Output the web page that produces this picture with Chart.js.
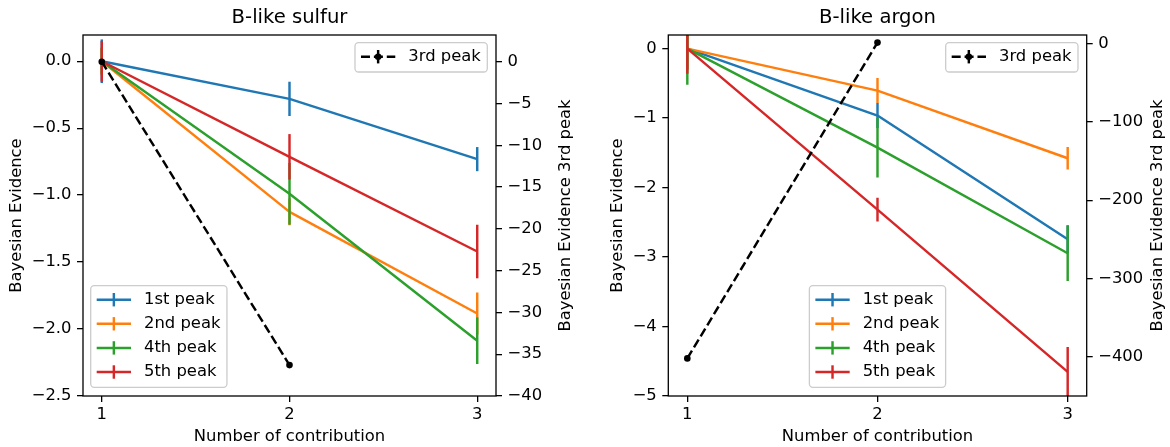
<!DOCTYPE html>
<html>
<head>
<meta charset="utf-8">
<script src="https://cdn.jsdelivr.net/npm/chart.js@4.4.0/dist/chart.umd.min.js"></script>
<style>
html, body { margin: 0; padding: 0; background: #fff; }
#wrap { position: relative; width: 1170px; height: 447px; }
canvas { position: absolute; top: 0; }
</style>
</head>
<body>
<div id="wrap">
  <canvas id="sulfur" width="585" height="447" style="left:0"></canvas>
  <canvas id="argon" width="585" height="447" style="left:585px"></canvas>
</div>
<script>
// x positions (number of contributions)
const xVals = [1, 2, 3];
const xTicks = [1, 2, 3];
const peakLabels = ['1st peak', '2nd peak', '4th peak', '5th peak'];
const peakColors = ['#1f77b4', '#ff7f0e', '#2ca02c', '#d62728'];

// B-like sulfur
const sulfurPeak1 = [0, -0.281, -0.731];
const sulfurPeak1Err = [0.163, 0.128, 0.09];
const sulfurPeak2 = [0, -1.125, -1.884];
const sulfurPeak2Err = [0.1, 0.1, 0.157];
const sulfurPeak4 = [0, -0.99, -2.087];
const sulfurPeak4Err = [0.1, 0.23, 0.174];
const sulfurPeak5 = [0, -0.714, -1.421];
const sulfurPeak5Err = [0.152, 0.17, 0.2];
const sulfurPeak3X = [1, 2];
const sulfurPeak3 = [0, -36.3];
const sulfurTicks = [0, -0.5, -1, -1.5, -2, -2.5];
const sulfurPeak3Ticks = [0, -5, -10, -15, -20, -25, -30, -35, -40];

// B-like argon
const argonPeak1 = [0, -0.964, -2.744];
const argonPeak1Err = [0.3, 0.18, 0.2];
const argonPeak2 = [0, -0.604, -1.578];
const argonPeak2Err = [0.3, 0.18, 0.163];
const argonPeak4 = [0, -1.425, -2.946];
const argonPeak4Err = [0.52, 0.43, 0.4];
const argonPeak5 = [0, -2.317, -4.653];
const argonPeak5Err = [0.36, 0.17, 0.36];
const argonPeak3X = [1, 2];
const argonPeak3 = [-402, 1.3];
const argonTicks = [0, -1, -2, -3, -4, -5];
const argonPeak3Ticks = [0, -100, -200, -300, -400];

const FONT = '"DejaVu Sans", sans-serif';
const SMALL = 16.4;
const tickFont = { family: FONT, size: SMALL };

const fmt = dec => v => (v < 0 ? '\u2212' : '') + Math.abs(v).toFixed(dec);

// vertical error bars, drawn right after each dataset's line
const errorBars = {
    id: 'errorBars',
    afterDatasetDraw(chart, args) {
        const ds = chart.data.datasets[args.index];
        if (!ds.errors) return;
        const { ctx, chartArea: a } = chart;
        const xs = chart.scales.x;
        const ys = chart.scales[ds.yAxisID];
        ctx.save();
        ctx.beginPath();
        ctx.rect(a.left, a.top, a.width, a.height);
        ctx.clip();
        ctx.strokeStyle = ds.borderColor;
        ctx.lineWidth = ds.borderWidth;
        ds.data.forEach((p, i) => {
            const px = xs.getPixelForValue(p.x);
            ctx.beginPath();
            ctx.moveTo(px, ys.getPixelForValue(p.y - ds.errors[i]));
            ctx.lineTo(px, ys.getPixelForValue(p.y + ds.errors[i]));
            ctx.stroke();
        });
        ctx.restore();
    }
};

function drawLegend(ctx, a, l) {
    ctx.save();
    ctx.font = `${SMALL}px ${FONT}`;
    const tw = Math.max(...l.items.map(it => ctx.measureText(it.label).width));
    const w = 53.3 + tw + 6.5;
    const h = 14 + (l.items.length - 1) * 24.1 + 15.3;
    let x, y;
    if (l.loc === 'upper right') { x = a.right - 8.7 - w; y = a.top + 7.7; }
    else if (l.loc === 'lower left') { x = a.left + 7.7; y = a.bottom - 8.7 - h; }
    else { x = (a.left + a.right - w) / 2; y = a.bottom - 8.7 - h; }
    ctx.beginPath();
    ctx.roundRect(x, y, w, h, 3.5);
    ctx.fillStyle = 'rgba(255,255,255,0.8)';
    ctx.fill();
    ctx.strokeStyle = '#cccccc';
    ctx.lineWidth = 1.3;
    ctx.stroke();
    l.items.forEach((it, i) => {
        const cy = y + 14 + i * 24.1;
        ctx.strokeStyle = it.color;
        ctx.lineWidth = 2.45;
        ctx.setLineDash(it.dash || []);
        ctx.beginPath();
        ctx.moveTo(x + 6, cy);
        ctx.lineTo(x + 40.3, cy);
        ctx.stroke();
        ctx.setLineDash([]);
        const mx = x + 23.15;
        ctx.beginPath();
        ctx.moveTo(mx, cy - 6.7);
        ctx.lineTo(mx, cy + 6.7);
        ctx.stroke();
        if (it.dot) {
            ctx.fillStyle = it.color;
            ctx.beginPath();
            ctx.arc(mx, cy, 3.3, 0, 2 * Math.PI);
            ctx.fill();
        }
        ctx.fillStyle = '#000';
        ctx.textAlign = 'left';
        ctx.textBaseline = 'middle';
        ctx.fillText(it.label, x + 53.3, cy);
    });
    ctx.restore();
}

// frame, title, right axis label and the two legends
const decor = {
    id: 'decor',
    afterDatasetsDraw(chart) {
        const { ctx, chartArea: a } = chart;
        ctx.save();
        ctx.strokeStyle = '#000';
        ctx.lineWidth = 1.3;
        ctx.strokeRect(a.left, a.top, a.width, a.height);
        ctx.restore();
    },
    afterDraw(chart, args, o) {
        const { ctx, chartArea: a } = chart;
        ctx.save();
        ctx.fillStyle = '#000';
        ctx.textAlign = 'center';
        ctx.textBaseline = 'middle';
        ctx.font = `19.6px ${FONT}`;
        ctx.fillText(o.title, (a.left + a.right) / 2, o.titleY);
        ctx.font = `${SMALL}px ${FONT}`;
        ctx.translate(o.rightTitleX, (a.top + a.bottom) / 2);
        ctx.rotate(-Math.PI / 2);
        ctx.fillText(o.rightTitle, 0, 0);
        ctx.restore();
        const ds = chart.data.datasets;
        const peaks = ds.filter(d => d.yAxisID === 'y').map(d => ({ label: d.label, color: d.borderColor }));
        const third = ds.filter(d => d.yAxisID === 'y2').map(d => ({ label: d.label, color: d.borderColor, dash: [9, 3.9], dot: true }));
        drawLegend(ctx, a, { loc: 'upper right', items: third });
        drawLegend(ctx, a, { loc: o.peakLegendLoc, items: peaks });
    }
};

function tickGrid() {
    return { drawOnChartArea: false, drawTicks: true, tickLength: 6, color: '#000', lineWidth: 1.3 };
}

function makeChart(id, c) {
    const series = [c.p1, c.p2, c.p4, c.p5];
    const errs = [c.e1, c.e2, c.e4, c.e5];
    const datasets = series.map((vals, i) => ({
        label: peakLabels[i],
        data: xVals.map((x, j) => ({ x, y: vals[j] })),
        errors: errs[i],
        borderColor: peakColors[i],
        backgroundColor: peakColors[i],
        borderWidth: 2.45,
        borderJoinStyle: 'round',
        pointRadius: 0,
        tension: 0,
        yAxisID: 'y',
        order: 10 - i
    }));
    datasets.push({
        label: '3rd peak',
        data: c.thirdX.map((x, j) => ({ x, y: c.third[j] })),
        borderColor: '#000',
        backgroundColor: '#000',
        borderWidth: 2.45,
        borderDash: [9, 3.9],
        pointRadius: 3.3,
        pointBorderWidth: 0,
        pointBackgroundColor: '#000',
        tension: 0,
        yAxisID: 'y2',
        order: 1
    });

    return new Chart(document.getElementById(id), {
        type: 'line',
        data: { datasets },
        plugins: [errorBars, decor],
        options: {
            responsive: false,
            animation: false,
            devicePixelRatio: 1,
            layout: { padding: { top: 35, left: 0, right: 0, bottom: 0 } },
            plugins: {
                legend: { display: false },
                tooltip: { enabled: false },
                decor: {
                    title: c.title,
                    titleY: 18,
                    rightTitle: 'Bayesian Evidence 3rd peak',
                    rightTitleX: c.rightTitleX,
                    peakLegendLoc: c.legendLoc
                }
            },
            scales: {
                x: {
                    type: 'linear',
                    min: 0.9,
                    max: 3.1,
                    afterBuildTicks: s => { s.ticks = xTicks.map(v => ({ value: v })); },
                    afterFit: s => { s.height = 51; },
                    grid: tickGrid(),
                    border: { display: false },
                    ticks: { color: '#000', font: tickFont, padding: 3, autoSkip: false, maxRotation: 0, callback: v => String(v) },
                    title: { display: true, text: 'Number of contribution', color: '#000', font: tickFont, padding: { top: 0, bottom: 0 } }
                },
                y: {
                    type: 'linear',
                    position: 'left',
                    min: c.yMin,
                    max: c.yMax,
                    afterBuildTicks: s => { s.ticks = c.yTicks.map(v => ({ value: v })); },
                    afterFit: s => { s.width = c.leftW; },
                    grid: tickGrid(),
                    border: { display: false },
                    ticks: { color: '#000', font: tickFont, padding: 5.5, autoSkip: false, callback: fmt(c.yDec) },
                    title: { display: true, text: 'Bayesian Evidence', color: '#000', font: tickFont, padding: { top: c.leftTitlePad, bottom: 0 } }
                },
                y2: {
                    type: 'linear',
                    position: 'right',
                    min: c.y2Min,
                    max: c.y2Max,
                    afterBuildTicks: s => { s.ticks = c.y2Ticks.map(v => ({ value: v })); },
                    afterFit: s => { s.width = c.rightW; },
                    grid: tickGrid(),
                    border: { display: false },
                    ticks: { color: '#000', font: tickFont, padding: 5.5, autoSkip: false, callback: fmt(0) }
                }
            }
        }
    });
}

makeChart('sulfur', {
    title: 'B-like sulfur',
    p1: sulfurPeak1, e1: sulfurPeak1Err,
    p2: sulfurPeak2, e2: sulfurPeak2Err,
    p4: sulfurPeak4, e4: sulfurPeak4Err,
    p5: sulfurPeak5, e5: sulfurPeak5Err,
    thirdX: sulfurPeak3X, third: sulfurPeak3,
    yMin: -2.5, yMax: 0.196, yTicks: sulfurTicks, yDec: 1,
    y2Min: -40, y2Max: 3.2, y2Ticks: sulfurPeak3Ticks,
    leftW: 83, rightW: 89,
    leftTitlePad: 6.5,
    rightTitleX: 566,
    legendLoc: 'lower left'
});

makeChart('argon', {
    title: 'B-like argon',
    p1: argonPeak1, e1: argonPeak1Err,
    p2: argonPeak2, e2: argonPeak2Err,
    p4: argonPeak4, e4: argonPeak4Err,
    p5: argonPeak5, e5: argonPeak5Err,
    thirdX: argonPeak3X, third: argonPeak3,
    yMin: -5, yMax: 0.196, yTicks: argonTicks, yDec: 0,
    y2Min: -450, y2Max: 11, y2Ticks: argonPeak3Ticks,
    leftW: 83.3, rightW: 83.3,
    leftTitlePad: 23.2,
    rightTitleX: 573,
    legendLoc: 'lower center'
});
</script>
</body>
</html>
